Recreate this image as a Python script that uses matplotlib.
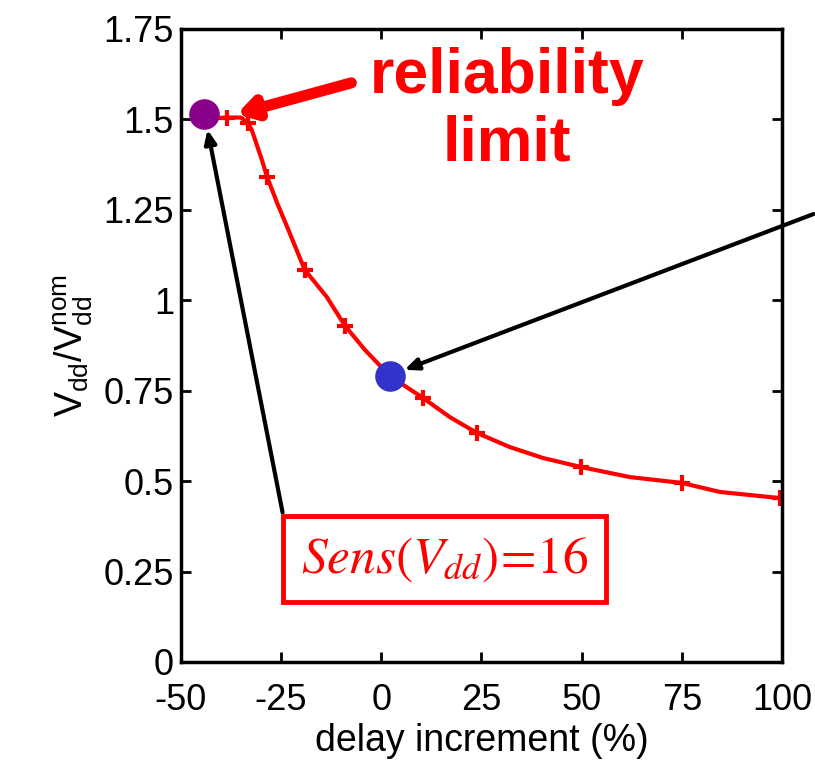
import matplotlib
matplotlib.use("Agg")
import matplotlib.pyplot as plt
import numpy as np

# curve values
delay = [-40.3, -38.5, -35.0, -33.3, -32.3, -29.8, -28.5, -26.0, -23.5, -19.1, -13.6,
         -9.1, -4.1, 2.2, 10.4, 17.1, 23.9, 32.1, 40.3, 49.8, 62.1, 75.0, 84.5, 99.5]
vdd = [1.504, 1.505, 1.505, 1.49, 1.47, 1.388, 1.341, 1.269, 1.203, 1.084, 1.009,
       0.93, 0.863, 0.79, 0.73, 0.677, 0.633, 0.594, 0.564, 0.539, 0.511, 0.495, 0.470, 0.453]
marked = [1, 3, 6, 9, 11, 14, 16, 19, 21, 23]

limit_pt = (-44.3, 1.515)
nominal_pt = (2.2, 0.79)

xticks = [-50, -25, 0, 25, 50, 75, 100]
yticks = [0, 0.25, 0.5, 0.75, 1, 1.25, 1.5, 1.75]
ytick_labels = ['0', '0.25', '0.5', '0.75', '1', '1.25', '1.5', '1.75']

tick_font = ['Liberation Sans', 'DejaVu Sans']
plt.rcParams['mathtext.fontset'] = 'custom'
plt.rcParams['mathtext.rm'] = 'Liberation Sans'
plt.rcParams['mathtext.it'] = 'Liberation Sans:italic'

fig = plt.figure(figsize=(8.15, 7.82), dpi=100)
ax = fig.add_axes([0.222, 0.1535, 0.7375, 0.8095])

ax.plot(delay, vdd, '-', color='red', lw=3, marker='+', markevery=marked,
        markersize=12, mew=3)
ax.plot(*limit_pt, 'o', color='#8B008B', markersize=21, zorder=5)
ax.plot(*nominal_pt, 'o', color='#3333CC', markersize=21, zorder=5)

ax.set_xlim(-50, 100)
ax.set_ylim(0, 1.75)
ax.set_xticks(xticks)
ax.set_xticklabels([str(t) for t in xticks], family=tick_font, fontsize=26)
ax.set_yticks(yticks)
ax.set_yticklabels(ytick_labels, family=tick_font, fontsize=26)
ax.tick_params(direction='in', length=7, width=2, top=True, right=True)
ax.tick_params(axis='x', pad=15)
ax.tick_params(axis='y', pad=5)
for s in ax.spines.values():
    s.set_linewidth(2.5)

ax.set_xlabel('delay increment (%)', family=tick_font, fontsize=27, labelpad=4)
ax.set_ylabel(r'V$_{\rm dd}$/V$_{\rm dd}^{\rm nom}$', family=tick_font, fontsize=27, labelpad=6)

# annotations
ax.text(31.4, 1.525, 'reliability\nlimit', color='red', fontsize=45, fontweight='bold',
        family=['Liberation Sans', 'DejaVu Sans'], ha='center', va='center', linespacing=1.2)
ax.annotate('', xy=(-36.8, 1.512), xytext=(-6.8, 1.603),
            arrowprops=dict(arrowstyle='-|>,head_length=1.0,head_width=0.6', color='red', lw=8))
ax.annotate('', xy=(-43.5, 1.479), xytext=(-24.5, 0.406),
            arrowprops=dict(arrowstyle='-|>,head_length=0.8,head_width=0.35', color='black', lw=3))
ax.annotate('', xy=(5.15, 0.805), xytext=(108.5, 1.241), annotation_clip=False,
            arrowprops=dict(arrowstyle='-|>,head_length=0.8,head_width=0.35', color='black', lw=3))

ax.text(15.7, 0.285, r'$Sens(V_{dd})\!=\!16$', color='red', fontsize=37,
        ha='center', va='center', math_fontfamily='stix',
        bbox=dict(boxstyle='square,pad=0.35', facecolor='white', edgecolor='red', lw=3.5))

fig.savefig('out.png', dpi=100)
